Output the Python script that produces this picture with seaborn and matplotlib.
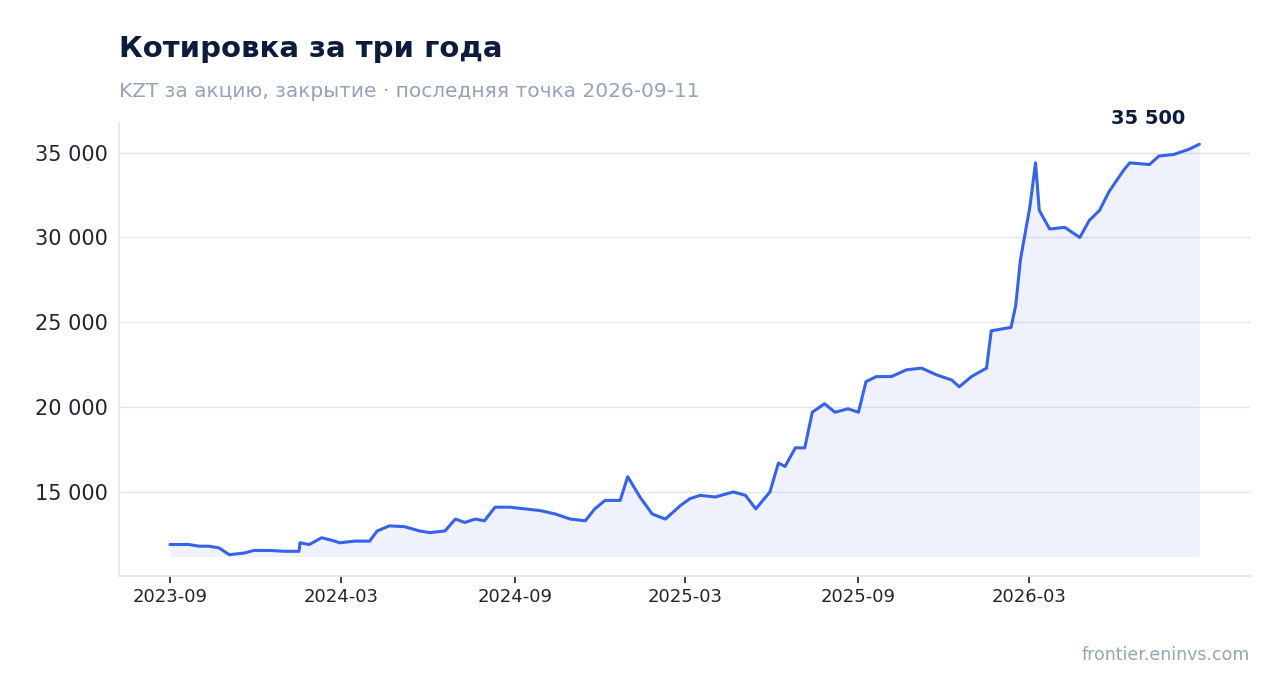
import seaborn as sns
import matplotlib.pyplot as plt
import matplotlib.dates as mdates
import matplotlib.ticker as mticker
import pandas as pd

# closing price, KZT per share
dates = [
    "2023-09-01", "2023-09-21", "2023-10-02", "2023-10-12", "2023-10-23", "2023-11-03",
    "2023-11-19", "2023-11-29", "2023-12-15", "2024-01-01", "2024-01-16", "2024-01-17",
    "2024-01-27", "2024-02-09", "2024-02-23", "2024-02-28", "2024-03-15", "2024-03-31",
    "2024-04-08", "2024-04-21", "2024-05-07", "2024-05-23", "2024-06-03", "2024-06-19",
    "2024-06-30", "2024-07-10", "2024-07-21", "2024-07-31", "2024-08-11", "2024-08-27",
    "2024-09-12", "2024-09-28", "2024-10-14", "2024-10-30", "2024-11-15", "2024-11-25",
    "2024-12-06", "2024-12-22", "2024-12-30", "2025-01-12", "2025-01-25", "2025-02-08",
    "2025-02-24", "2025-03-06", "2025-03-17", "2025-04-02", "2025-04-21", "2025-05-04",
    "2025-05-15", "2025-05-30", "2025-06-08", "2025-06-15", "2025-06-26", "2025-07-06",
    "2025-07-14", "2025-07-27", "2025-08-07", "2025-08-21", "2025-09-01", "2025-09-09",
    "2025-09-20", "2025-10-06", "2025-10-22", "2025-11-07", "2025-11-23", "2025-12-09",
    "2025-12-17", "2025-12-30", "2026-01-15", "2026-01-20", "2026-02-10", "2026-02-15",
    "2026-02-20", "2026-03-02", "2026-03-08", "2026-03-12", "2026-03-23", "2026-04-08",
    "2026-04-24", "2026-05-04", "2026-05-15", "2026-05-25", "2026-06-10", "2026-06-16",
    "2026-07-07", "2026-07-17", "2026-08-02", "2026-08-18", "2026-08-29",
]
prices = [
    11900, 11900, 11800, 11800, 11700, 11300,
    11400, 11550, 11550, 11500, 11500, 12000,
    11900, 12300, 12100, 12000, 12100, 12100,
    12700, 13000, 12950, 12700, 12600, 12700,
    13400, 13200, 13400, 13300, 14100, 14100,
    14000, 13900, 13700, 13400, 13300, 14000,
    14500, 14500, 15900, 14700, 13700, 13400,
    14200, 14600, 14800, 14700, 15000, 14800,
    14000, 15000, 16700, 16500, 17600, 17600,
    19700, 20200, 19700, 19900, 19700, 21500,
    21800, 21800, 22200, 22300, 21900, 21600,
    21200, 21800, 22300, 24500, 24700, 26000,
    28700, 31800, 34400, 31600, 30500, 30600,
    30000, 31000, 31600, 32700, 34000, 34400,
    34300, 34800, 34900, 35200, 35500,
]
tick_dates = ["2023-09-01", "2024-03-01", "2024-09-01", "2025-03-01", "2025-09-01", "2026-03-01"]

df = pd.DataFrame({"date": pd.to_datetime(dates), "price": prices})

sns.set_theme(style="white")
plt.rcParams["font.family"] = ["DejaVu Sans"]

fig = plt.figure(figsize=(12.81, 6.93), dpi=100)
ax = fig.add_axes([0.093, 0.169, 0.883, 0.654])

line_color = "#3563e9"
sns.lineplot(data=df, x="date", y="price", ax=ax, color=line_color, linewidth=2.2)
ax.fill_between(df["date"], df["price"], 11200, color=line_color, alpha=0.08, linewidth=0)

ax.set_ylim(10050, 36770)
ax.set_xlim(pd.Timestamp("2023-07-09"), pd.Timestamp("2026-10-22"))
ax.yaxis.set_major_locator(mticker.FixedLocator([15000, 20000, 25000, 30000, 35000]))
ax.yaxis.set_major_formatter(mticker.FuncFormatter(lambda v, p: f"{int(v):,}".replace(",", " ")))
ax.xaxis.set_major_locator(mticker.FixedLocator(mdates.date2num(pd.to_datetime(tick_dates))))
ax.xaxis.set_major_formatter(mdates.DateFormatter("%Y-%m"))
ax.grid(axis="y", color="#e3e6ee", linewidth=1)
ax.set_xlabel("")
ax.set_ylabel("")
for s in ["top", "right"]:
    ax.spines[s].set_visible(False)
for s in ["left", "bottom"]:
    ax.spines[s].set_color("#e3e6ee")
ax.tick_params(axis="y", labelsize=15, colors="#1e2433", length=0, pad=8)
ax.tick_params(axis="x", labelsize=13, colors="#1e2433", length=5, color="#1e2433", bottom=True)

last = df.iloc[-1]
ax.annotate("35 500", (last["date"], last["price"]), xytext=(-10, 12), textcoords="offset points",
            ha="right", va="bottom", fontsize=14, fontweight="bold", color="#0d1b3e")

fig.text(0.093, 0.918, "Котировка за три года", fontsize=21, fontweight="bold", color="#0d1b3e")
fig.text(0.093, 0.86, "KZT за акцию, закрытие · последняя точка 2026-09-11", fontsize=14.5, color="#94a3b8")
fig.text(0.976, 0.048, "frontier.eninvs.com", fontsize=12.5, color="#94a3b8", ha="right")

fig.savefig("out.png", dpi=100)
